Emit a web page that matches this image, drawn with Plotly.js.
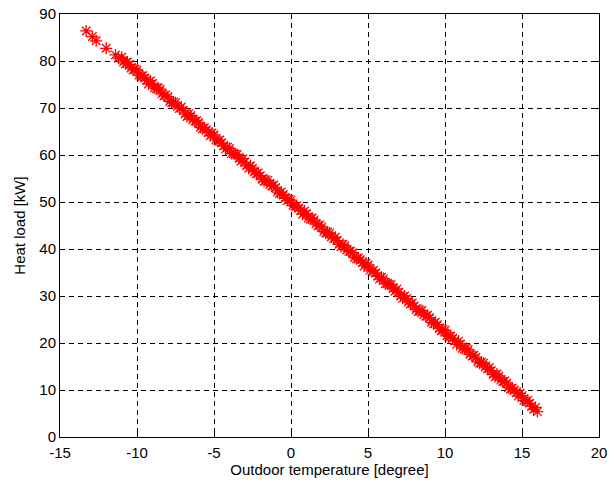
<!DOCTYPE html>
<html>
<head>
<meta charset="utf-8">
<script src="https://cdn.plot.ly/plotly-3.0.1.min.js"></script>
<style>html,body{margin:0;padding:0;background:#fff;}#chart{width:614px;height:484px;}</style>
</head>
<body>
<div id="chart"></div>
<script>
// Outdoor temperature [degree] - first set of readings
const temperature = [
  -13.3, -12.9, -12.65, -12.0, -11.4, -11.2,
  -11.0, -10.75, -10.5, -10.25, -10.0, -9.75, -9.5, -9.25, -9.0, -8.75,
  -8.5, -8.25, -8.0, -7.75, -7.5, -7.25, -7.0, -6.75, -6.5, -6.25,
  -6.0, -5.75, -5.5, -5.25, -5.0, -4.75, -4.5, -4.25, -4.0, -3.75,
  -3.5, -3.25, -3.0, -2.75, -2.5, -2.25, -2.0, -1.75, -1.5, -1.25,
  -1.0, -0.75, -0.5, -0.25, 0.0, 0.25, 0.5, 0.75, 1.0, 1.25,
  1.5, 1.75, 2.0, 2.25, 2.5, 2.75, 3.0, 3.25, 3.5, 3.75,
  4.0, 4.25, 4.5, 4.75, 5.0, 5.25, 5.5, 5.75, 6.0, 6.25,
  6.5, 6.75, 7.0, 7.25, 7.5, 7.75, 8.0, 8.25, 8.5, 8.75,
  9.0, 9.25, 9.5, 9.75, 10.0, 10.25, 10.5, 10.75, 11.0, 11.25,
  11.5, 11.75, 12.0, 12.25, 12.5, 12.75, 13.0, 13.25, 13.5, 13.75,
  14.0, 14.25, 14.5, 14.75, 15.0, 15.25, 15.5, 15.75, 16.0
];
// Heat load [kW] - first set of readings
const heatLoad = [
  86.4, 85.2, 84.3, 82.7, 81.3, 80.6,
  80.8, 79.4, 79.3, 78.1, 78.1, 76.8, 76.4, 75.1, 75.2, 74.1,
  74.0, 72.6, 72.4, 71.1, 71.1, 69.9, 69.5, 68.2, 68.4, 67.2,
  66.9, 65.6, 65.4, 64.1, 64.3, 63.0, 62.6, 61.3, 61.4, 60.3,
  60.1, 58.7, 58.5, 57.2, 57.2, 56.0, 55.6, 54.4, 54.6, 53.4,
  53.1, 51.8, 51.6, 50.3, 50.4, 49.1, 48.7, 47.4, 47.5, 46.4,
  46.2, 44.9, 44.7, 43.4, 43.4, 42.2, 41.8, 40.5, 40.7, 39.5,
  39.2, 37.9, 37.7, 36.4, 36.6, 35.3, 34.9, 33.6, 33.7, 32.6,
  32.4, 31.0, 30.8, 29.5, 29.5, 28.3, 27.9, 26.7, 26.9, 25.7,
  25.4, 24.1, 23.9, 22.6, 22.7, 21.4, 21.0, 19.7, 19.8, 18.7,
  18.6, 17.2, 17.0, 15.7, 15.7, 14.5, 14.1, 12.8, 13.0, 11.8,
  11.5, 10.2, 10.0, 8.7, 8.8, 7.6, 7.2, 5.9, 5.4
];
// Outdoor temperature [degree] - second set of readings
const temperature2 = [
  -10.875, -10.625, -10.375, -10.125, -9.875, -9.625, -9.375, -9.125, -8.875, -8.625,
  -8.375, -8.125, -7.875, -7.625, -7.375, -7.125, -6.875, -6.625, -6.375, -6.125,
  -5.875, -5.625, -5.375, -5.125, -4.875, -4.625, -4.375, -4.125, -3.875, -3.625,
  -3.375, -3.125, -2.875, -2.625, -2.375, -2.125, -1.875, -1.625, -1.375, -1.125,
  -0.875, -0.625, -0.375, -0.125, 0.125, 0.375, 0.625, 0.875, 1.125, 1.375,
  1.625, 1.875, 2.125, 2.375, 2.625, 2.875, 3.125, 3.375, 3.625, 3.875,
  4.125, 4.375, 4.625, 4.875, 5.125, 5.375, 5.625, 5.875, 6.125, 6.375,
  6.625, 6.875, 7.125, 7.375, 7.625, 7.875, 8.125, 8.375, 8.625, 8.875,
  9.125, 9.375, 9.625, 9.875, 10.125, 10.375, 10.625, 10.875, 11.125, 11.375,
  11.625, 11.875, 12.125, 12.375, 12.625, 12.875, 13.125, 13.375, 13.625, 13.875,
  14.125, 14.375, 14.625, 14.875, 15.125, 15.375, 15.625, 15.875
];
// Heat load [kW] - second set of readings
const heatLoad2 = [
  79.8, 79.8, 78.5, 78.3, 77.0, 76.9, 75.9, 75.8, 74.3, 74.3,
  73.0, 72.8, 71.4, 71.3, 70.3, 70.2, 68.7, 68.8, 67.5, 67.3,
  65.9, 65.8, 64.8, 64.7, 63.2, 63.2, 61.9, 61.7, 60.3, 60.2,
  59.3, 59.2, 57.7, 57.7, 56.4, 56.2, 54.8, 54.7, 53.7, 53.6,
  52.1, 52.1, 50.8, 50.6, 49.3, 49.2, 48.2, 48.1, 46.6, 46.6,
  45.3, 45.1, 43.7, 43.6, 42.6, 42.5, 41.0, 41.0, 39.8, 39.6,
  38.2, 38.1, 37.1, 37.0, 35.5, 35.5, 34.2, 34.0, 32.6, 32.5,
  31.6, 31.5, 30.0, 30.0, 28.7, 28.5, 27.1, 27.0, 26.0, 25.9,
  24.4, 24.4, 23.1, 22.9, 21.6, 21.5, 20.5, 20.4, 18.9, 18.9,
  17.6, 17.4, 16.0, 15.9, 14.9, 14.8, 13.3, 13.4, 12.1, 11.9,
  10.5, 10.4, 9.4, 9.3, 7.8, 7.8, 6.5, 6.3
];
const xTicks = [-15, -10, -5, 0, 5, 10, 15, 20];
const yTicks = [0, 10, 20, 30, 40, 50, 60, 70, 80, 90];

const FONT = 'Liberation Sans, Arial, sans-serif';
const axisCommon = {
  showline: true, linecolor: '#000', linewidth: 1, mirror: 'ticks',
  ticks: 'inside', ticklen: 5, tickcolor: '#000', tickwidth: 1,
  showgrid: true, gridcolor: '#000', gridwidth: 1, griddash: '5px,4px',
  zeroline: false, tickfont: {family: FONT, size: 15, color: '#000'}
};

const markerStyle = {symbol: 'asterisk-open', size: 10, color: '#ff0000', line: {color: '#ff0000', width: 1.3}};
const traces = [
  {x: temperature, y: heatLoad, type: 'scatter', mode: 'markers', marker: markerStyle, hoverinfo: 'skip'},
  {x: temperature2, y: heatLoad2, type: 'scatter', mode: 'markers', marker: markerStyle, hoverinfo: 'skip'}
];

const layout = {
  width: 614, height: 484,
  margin: {l: 60, r: 15, t: 14, b: 47},
  paper_bgcolor: '#fff', plot_bgcolor: '#fff',
  showlegend: false,
  font: {family: FONT, size: 15, color: '#000'},
  xaxis: Object.assign({}, axisCommon, {
    range: [-15, 20], tickvals: xTicks, ticktext: xTicks.map(String),
    ticklabelstandoff: 2,
    title: {text: 'Outdoor temperature [degree]', font: {family: FONT, size: 15, color: '#000'}, standoff: 1}
  }),
  yaxis: Object.assign({}, axisCommon, {
    range: [0, 90], tickvals: yTicks, ticktext: yTicks.map(String),
    title: {text: 'Heat load [kW]', font: {family: FONT, size: 15, color: '#000'}, standoff: 10}
  })
};

Plotly.newPlot('chart', traces, layout, {displayModeBar: false, staticPlot: true});
</script>
</body>
</html>
